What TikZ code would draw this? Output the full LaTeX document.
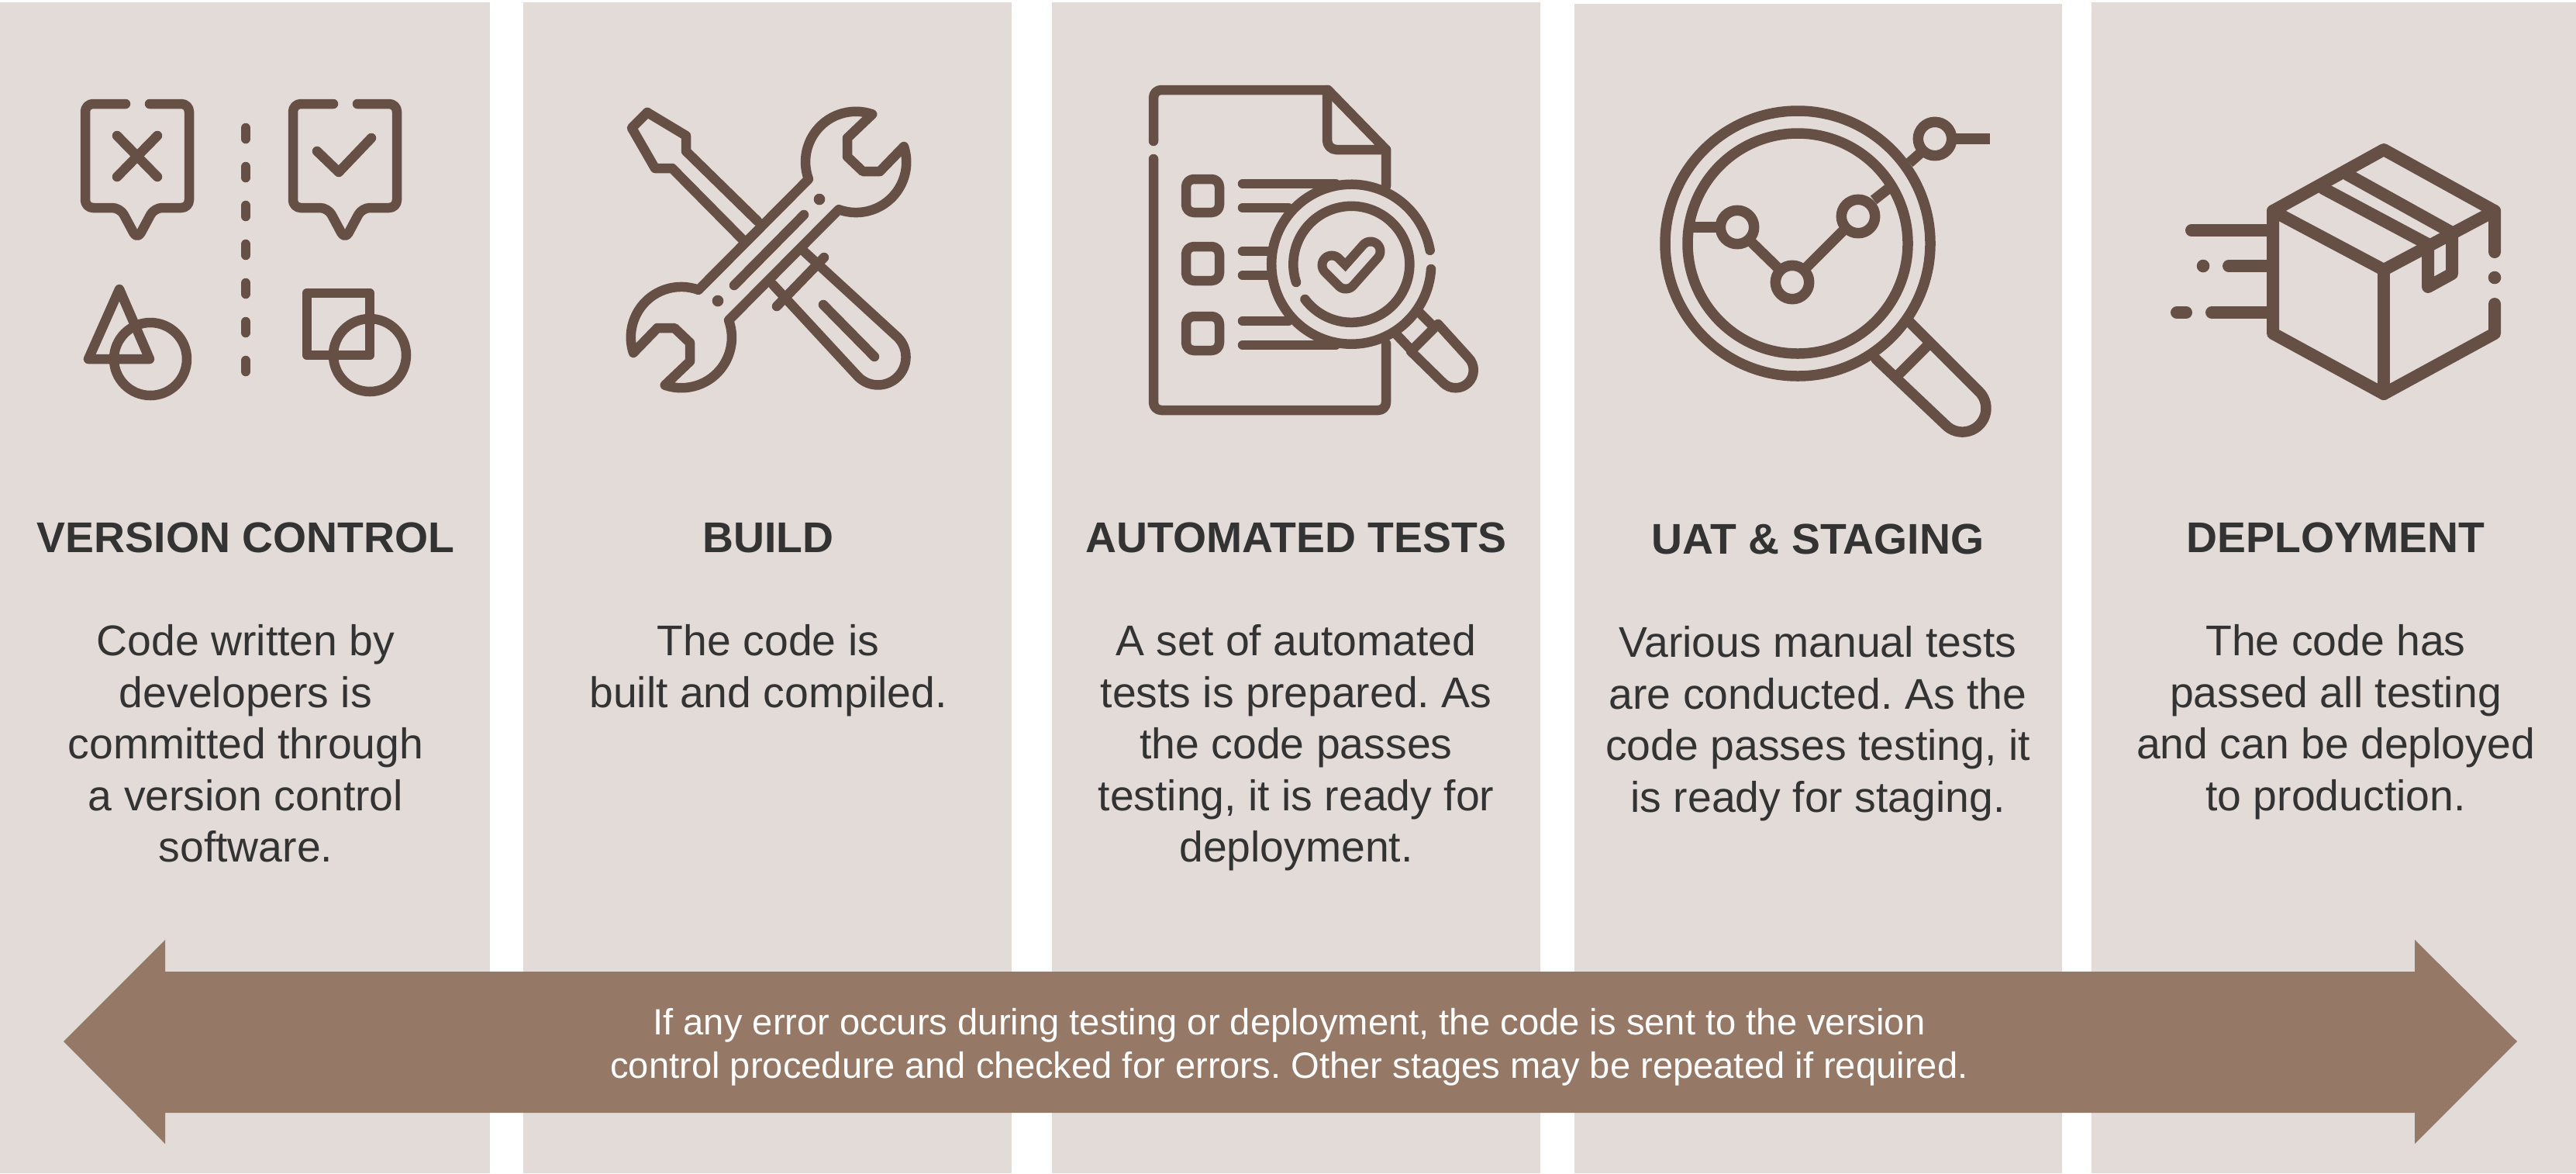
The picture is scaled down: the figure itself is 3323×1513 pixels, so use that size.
\documentclass[tikz,border=0pt]{standalone}
\usepackage{fontspec}
\setmainfont{Liberation Sans}
\usepackage{tikz}
\definecolor{panelgray}{HTML}{E2DBD8}
\definecolor{iconbrown}{HTML}{665045}
\definecolor{arrowbrown}{HTML}{957866}
\definecolor{textdark}{HTML}{333333}
\begin{document}
\frenchspacing
\begin{tikzpicture}[x=0.1mm,y=-0.1mm]
\tikzstyle{every node}+=[inner sep=0pt]
\tikzstyle{icon}=[iconbrown,line width=1.25mm,line cap=round,line join=round]
\tikzstyle{boxicon}=[icon,line width=1.6mm]
\tikzstyle{heading}=[textdark,anchor=base,font=\fontsize{15.75pt}{19pt}\selectfont\bfseries]
\tikzstyle{bodytext}=[textdark,anchor=north,align=center,font=\fontsize{15.75pt}{18.92pt}\selectfont]
\useasboundingbox (0,0) rectangle (3323,1513);
\fill [panelgray] (0,3) rectangle (632,1513);
\fill [panelgray] (675,3) rectangle (1305,1513);
\fill [panelgray] (1357,3) rectangle (1987,1513);
\fill [panelgray] (2031,5) rectangle (2660,1513);
\fill [panelgray] (2698,3) rectangle (3323,1513);
\draw [icon,rounded corners=1mm] (162,134) -- (110,134) -- (110,268) -- (155,268) -- (177,309) -- (199,268) -- (244,268) -- (244,134) -- (193,134);
\draw [icon] (151,175) -- (203,228);
\draw [icon] (203,175) -- (151,228);
\draw [icon,rounded corners=1mm] (430,134) -- (378,134) -- (378,268) -- (423,268) -- (445,309) -- (467,268) -- (512,268) -- (512,134) -- (461,134);
\draw [icon] (409,195) -- (437,222) -- (479,178);
\draw [icon,dash pattern=on 1.4mm off 3.6mm] (317,165) -- (317,479);
\draw [icon] (154,373) -- (114,463) -- (193,463) -- cycle;
\draw [icon] (194,463) circle (47);
\draw [icon] (396,378) rectangle (477,458);
\draw [icon] (477,458) circle (47);
\draw [icon] (835,145) -- (815,165) -- (845,217) -- (867,217) -- (957,308);
\draw [icon] (835,145) -- (885,175) -- (885,195) -- (977,285);
\draw [icon] (1043,231) arc (160:289:65) -- (1093,178) -- (1093,202) -- (1113,221) -- (1135,221) -- (1166,189) arc (-18:110:65) -- (940,413) arc (340:469:65) -- (890,466) -- (890,442) -- (870,423) -- (848,423) -- (817,455) arc (162:290:65) -- cycle;
\fill [iconbrown] (1057,257) circle (7.3);
\fill [iconbrown] (926,388) circle (7.3);
\draw [icon] (1037,277) -- (947,368);
\draw [icon] (1038,325) -- (1158,435) arc (-45:135:36) -- (997,367);
\draw [icon] (1002,395) -- (1063,332);
\draw [icon] (1062,393) -- (1128,460);
\draw [icon] (1488,182) [rounded corners=1mm] -- (1488,116) [sharp corners] -- (1713,116) -- (1788,193) -- (1788,240);
\draw [icon] (1788,443) [rounded corners=1mm] -- (1788,529) -- (1488,529) [sharp corners] -- (1488,205);
\draw [icon] (1712,116) [rounded corners=1.2mm] -- (1712,193) [sharp corners] -- (1788,193);
\draw [icon,rounded corners=1mm] (1530,231) rectangle (1573,274);
\draw [icon,rounded corners=1mm] (1530,318) rectangle (1573,362);
\draw [icon,rounded corners=1mm] (1530,408) rectangle (1573,452);
\draw [icon] (1603,237) -- (1723,237);
\draw [icon] (1603,268) -- (1662,268);
\draw [icon] (1603,324) -- (1637,324);
\draw [icon] (1603,355) -- (1637,355);
\draw [icon] (1603,414) -- (1662,414);
\draw [icon] (1603,445) -- (1723,445);
\draw [icon] (1846,347) arc (3.5:350:103);
\draw [icon] (1672,364) arc (162:503:75);
\draw [iconbrown,line width=3.7mm,line cap=round,line join=round] (1718,342) -- (1736,360) -- (1768,324);
\draw [panelgray,line width=1.3mm,line cap=round,line join=round] (1718,342) -- (1736,360) -- (1768,324);
\draw [icon] (1830,402) -- (1850,422);
\draw [icon] (1802,432) -- (1821,452);
\draw [icon] (1855,418) -- (1894,461) arc (-45:135:23) -- (1820,453) -- cycle;
\draw [icon,line width=1.35mm] (2319,314) circle (171);
\draw [icon,line width=1.35mm] (2319,314) circle (142);
\draw [icon,line width=1.35mm] (2241,293) circle (21.7);
\draw [icon,line width=1.35mm] (2312,364) circle (21.7);
\draw [icon,line width=1.35mm] (2397,279) circle (21.7);
\draw [icon,line width=1.35mm] (2496,179) circle (21.7);
\draw [icon,line width=1.35mm,line cap=butt] (2178,293) -- (2219,293);
\draw [icon,line width=1.35mm,line cap=butt] (2257,310) -- (2295,347);
\draw [icon,line width=1.35mm,line cap=butt] (2328,347) -- (2377,298);
\draw [icon,line width=1.35mm,line cap=butt] (2417,258) -- (2440,240);
\draw [icon,line width=1.35mm,line cap=butt] (2463,210) -- (2480,195);
\draw [icon,line width=1.35mm,line cap=butt] (2518,179) -- (2567,179);
\draw [icon,line width=1.35mm] (2463,415) -- (2553,505) arc (-45:135:30.5) -- (2420,463);
\draw [icon,line width=1.35mm] (2450,482) -- (2485,447);
\draw [boxicon] (3218,325) -- (3218,272) -- (3075,193) -- (2932,272) -- (2932,430) -- (3075,508) -- (3218,430) -- (3218,392);
\draw [boxicon] (2932,272) -- (3075,348) -- (3218,272);
\draw [boxicon] (3075,348) -- (3075,508);
\draw [boxicon] (2997,243) -- (3132,315) -- (3132,370) -- (3163,353) -- (3163,300) -- (3028,225);
\fill [iconbrown] (3218,358) circle (8.3);
\draw [boxicon] (2827,297) -- (2932,297);
\fill [iconbrown] (2842,343) circle (8.3);
\draw [boxicon] (2875,343) -- (2932,343);
\draw [boxicon] (2808,403) -- (2820,403);
\draw [boxicon] (2853,403) -- (2932,403);
\draw (317,712) node (title1) [heading] {VERSION CONTROL};
\draw (991,712) node (title2) [heading] {BUILD};
\draw (1672,712) node (title3) [heading] {AUTOMATED TESTS};
\draw (2345,714) node (title4) [heading] {UAT \& STAGING};
\draw (3013,712) node (title5) [heading] {DEPLOYMENT};
\draw (317,805) node (body1) [bodytext] {Code written by\\developers is\\committed through\\a version control\\software.};
\draw (991,805) node (body2) [bodytext] {The code is\\built and compiled.};
\draw (1672,805) node (body3) [bodytext] {A set of automated\\tests is prepared. As\\the code passes\\testing, it is ready for\\deployment.};
\draw (2345,807) node (body4) [bodytext] {Various manual tests\\are conducted. As the\\code passes testing, it\\is ready for staging.};
\draw (3013,805) node (body5) [bodytext] {The code has\\passed all testing\\and can be deployed\\to production.};
\fill [arrowbrown] (82,1343) -- (213,1212) -- (213,1253) -- (3115,1253) -- (3115,1212) -- (3247,1343) -- (3115,1475) -- (3115,1435) -- (213,1435) -- (213,1475) -- cycle;
\draw (1663,1350) node (arrowtext) [white,align=center,font=\fontsize{13.42pt}{16pt}\selectfont] {If any error occurs during testing or deployment, the code is sent to the version\\control procedure and checked for errors. Other stages may be repeated if required.};
\end{tikzpicture}
\end{document}
